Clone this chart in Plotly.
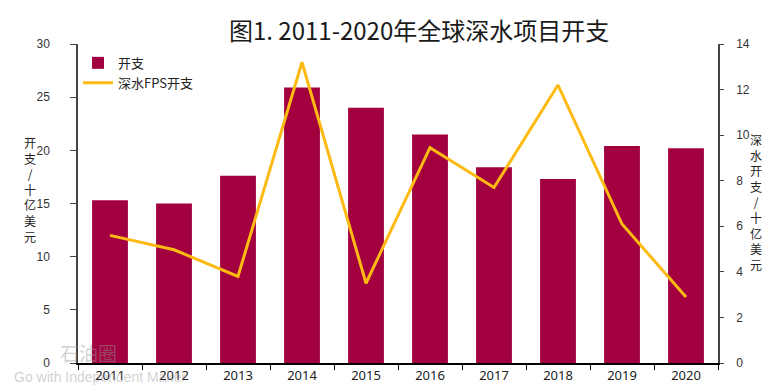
import plotly.graph_objects as go

years = ["2011", "2012", "2013", "2014", "2015", "2016", "2017", "2018", "2019", "2020"]
spend = [15.3, 15.0, 17.6, 25.9, 24.0, 21.5, 18.4, 17.3, 20.4, 20.2]
fps_spend = [5.6, 4.97, 3.8, 13.2, 3.5, 9.45, 7.7, 12.2, 6.1, 2.9]

title_text = "图1. 2011-2020年全球深水项目开支"
left_title = "开支/十亿美元"
right_title = "深水开支/十亿美元"

FONT = "Liberation Sans, Noto Sans CJK SC, sans-serif"
CJK = "Noto Sans CJK SC, sans-serif"

fig = go.Figure()
fig.add_trace(go.Bar(x=years, y=spend, name="开支", marker=dict(color="#A2003F", line=dict(width=0)),
                     yaxis="y"))
fig.add_trace(go.Scatter(x=years, y=fps_spend, name="深水FPS开支", mode="lines",
                         line=dict(color="#FDBA12", width=3), yaxis="y2"))

L, R, T, B = 70, 65, 36, 25
W, H = 775, 388
ph = H - T - B
pw = W - L - R


def py(p):
    return (H - B - p) / ph


def px(p):
    return (p - L) / pw


annotations = [
    dict(text=title_text, x=px(411), y=py(21), xref="paper", yref="paper", showarrow=False,
         font=dict(size=24, color="#1a1a1a", family=CJK), xanchor="center", yanchor="middle"),
    dict(text="<br>".join(left_title), x=px(22), y=py(185), xref="paper", yref="paper",
         showarrow=False, font=dict(size=12, color="#222", family=CJK),
         xanchor="center", yanchor="middle", align="center"),
    dict(text="<br>".join(right_title), x=px(748), y=py(198), xref="paper", yref="paper",
         showarrow=False, font=dict(size=12, color="#222", family=CJK),
         xanchor="center", yanchor="middle", align="center"),
    # watermark
    dict(text="石油圈", x=px(50), y=py(352), xref="paper", yref="paper",
         showarrow=False, font=dict(size=19, color="rgba(150,150,150,0.45)", family=CJK),
         xanchor="left", yanchor="middle"),
    dict(text="Go with Independent Maker", x=px(4), y=py(377), xref="paper",
         yref="paper", showarrow=False,
         font=dict(size=14, color="rgba(150,150,150,0.45)", family=FONT),
         xanchor="left", yanchor="middle"),
]

fig.update_layout(
    width=W, height=H,
    margin=dict(l=L, r=R, t=T, b=B),
    paper_bgcolor="white", plot_bgcolor="white",
    font=dict(family=FONT, size=12, color="#333"),
    bargap=0.44,
    showlegend=True,
    legend=dict(x=0.0, y=py(40), xanchor="left", yanchor="top", bgcolor="rgba(0,0,0,0)",
                font=dict(size=13, family=CJK, color="#222"), tracegroupgap=0, itemwidth=30),
    xaxis=dict(type="category", showline=True, linecolor="#000", linewidth=1.5, ticks="outside",
               tickson="boundaries", ticklen=5, tickcolor="#000", showgrid=False,
               tickfont=dict(size=13, family="Noto Sans, sans-serif", color="#222"),
               range=[-0.5, 9.5]),
    yaxis=dict(range=[0, 30], dtick=5, showline=True, linecolor="#444", linewidth=1.5, ticks="outside",
               ticklen=6, tickcolor="#444", showgrid=False, zeroline=False,
               ticklabelstandoff=18, tickfont=dict(size=12, color="#333")),
    yaxis2=dict(range=[0, 14], dtick=2, overlaying="y", side="right", showline=True, linecolor="#444",
                linewidth=1.5, ticks="outside", ticklen=4, tickcolor="#444", showgrid=False,
                zeroline=False, ticklabelstandoff=10, tickfont=dict(size=12, color="#333")),
    annotations=annotations,
)

fig.write_html("out.html")
